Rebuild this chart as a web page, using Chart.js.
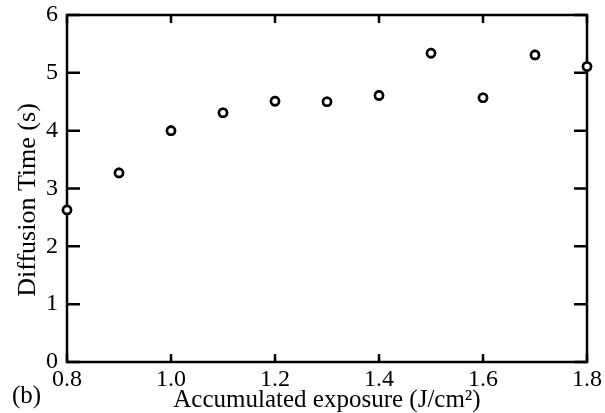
<!DOCTYPE html>
<html>
<head>
<meta charset="utf-8">
<script src="https://cdn.jsdelivr.net/npm/chart.js@4"></script>
<style>
html,body{margin:0;padding:0;background:#fff;}
#wrap{width:605px;height:413px;position:relative;}
</style>
</head>
<body>
<div id="wrap"><canvas id="c" width="605" height="413"></canvas></div>
<script>
const exposure = [0.8, 0.9, 1.0, 1.1, 1.2, 1.3, 1.4, 1.5, 1.6, 1.7, 1.8];
const diffusionTime = [2.63, 3.27, 4.0, 4.31, 4.51, 4.50, 4.61, 5.34, 4.57, 5.31, 5.11];
const xTicks = [0.8, 1.0, 1.2, 1.4, 1.6, 1.8];
const yTicks = [0, 1, 2, 3, 4, 5, 6];
const xTitle = 'Accumulated exposure (J/cm\u00B2)';
const yTitle = 'Diffusion Time (s)';
const panelLabel = '(b)';

const FONT = 'Liberation Serif';

const framePlugin = {
  id: 'frame',
  afterDatasetsDraw(chart) {
    const {ctx, chartArea: a, scales} = chart;
    ctx.save();
    ctx.strokeStyle = '#000';
    ctx.lineWidth = 2.5;
    ctx.lineCap = 'butt';
    ctx.beginPath();
    xTicks.forEach(v => {
      const px = scales.x.getPixelForValue(v);
      ctx.moveTo(px, a.bottom); ctx.lineTo(px, a.bottom - 8);
      ctx.moveTo(px, a.top); ctx.lineTo(px, a.top + 8);
    });
    yTicks.forEach(v => {
      const py = scales.y.getPixelForValue(v);
      ctx.moveTo(a.left, py); ctx.lineTo(a.left + 13, py);
      ctx.moveTo(a.right, py); ctx.lineTo(a.right - 13, py);
    });
    ctx.stroke();
    ctx.lineJoin = 'miter';
    ctx.strokeRect(a.left, a.top, a.right - a.left, a.bottom - a.top);
    ctx.fillStyle = '#000';
    // panel label
    ctx.font = '25px "' + FONT + '"';
    ctx.textBaseline = 'alphabetic';
    ctx.textAlign = 'left';
    ctx.fillText(panelLabel, 12, 403);
    // y axis title
    ctx.save();
    ctx.translate(28, 200);
    ctx.rotate(-Math.PI / 2);
    ctx.font = '26px "' + FONT + '"';
    ctx.textAlign = 'center';
    ctx.textBaseline = 'middle';
    ctx.fillText(yTitle, 0, 0);
    ctx.restore();
    ctx.restore();
  },
  afterDraw(chart) {
    const meta = chart.getDatasetMeta(0);
    const ctx = chart.ctx;
    ctx.save();
    meta.data.forEach(pt => pt.draw(ctx));
    ctx.restore();
  }
};

new Chart(document.getElementById('c'), {
  type: 'scatter',
  data: {
    datasets: [{
      data: exposure.map((x, i) => ({x: x, y: diffusionTime[i]})),
      pointStyle: 'circle',
      pointRadius: 4,
      pointBorderWidth: 2.6,
      pointBorderColor: '#000',
      pointBackgroundColor: '#fff',
      clip: false
    }]
  },
  options: {
    responsive: false,
    animation: false,
    devicePixelRatio: 1,
    layout: {padding: {top: 15, right: 18, left: 0, bottom: 0}},
    plugins: {legend: {display: false}, tooltip: {enabled: false}},
    scales: {
      x: {
        type: 'linear',
        min: 0.8, max: 1.8,
        afterBuildTicks(s) { s.ticks = xTicks.map(v => ({value: v})); },
        afterFit(s) { s.height = 51; s.paddingLeft = 0; s.paddingRight = 0; },
        grid: {display: false, drawTicks: false},
        border: {display: false},
        ticks: {
          padding: 3,
          color: '#000',
          font: {family: FONT, size: 24},
          maxRotation: 0,
          autoSkip: false,
          callback: v => v.toFixed(1)
        },
        title: {
          display: true,
          text: xTitle,
          color: '#000',
          font: {family: FONT, size: 25},
          padding: {top: 0, bottom: -2}
        }
      },
      y: {
        type: 'linear',
        min: 0, max: 6,
        afterBuildTicks(s) { s.ticks = yTicks.map(v => ({value: v})); },
        afterFit(s) { s.width = 67; s.paddingTop = 0; s.paddingBottom = 0; },
        grid: {display: false, drawTicks: false},
        border: {display: false},
        ticks: {
          padding: 9,
          color: '#000',
          font: {family: FONT, size: 24},
          autoSkip: false,
          callback: v => String(v)
        },
        title: {display: false}
      }
    }
  },
  plugins: [framePlugin]
});
</script>
</body>
</html>
